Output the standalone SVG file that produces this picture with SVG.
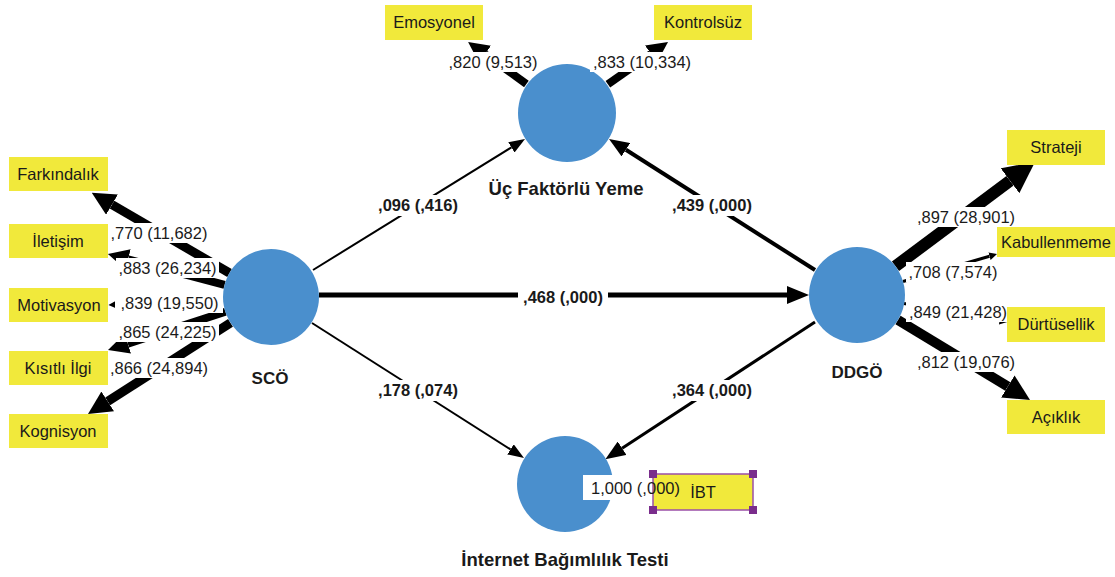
<svg xmlns="http://www.w3.org/2000/svg" width="1115" height="577" viewBox="0 0 1115 577">
<style>
.bx{fill:#f1e93b}
.bt{font-family:"Liberation Sans",Arial,sans-serif;font-size:16.5px;fill:#1a1a1a;text-anchor:middle}
.lt{font-family:"Liberation Sans",Arial,sans-serif;font-size:16.5px;fill:#1a1a1a;text-anchor:middle}
.pl{font-family:"Liberation Sans",Arial,sans-serif;font-size:16.5px;font-weight:bold;fill:#1a1a1a;text-anchor:middle}
.nl{font-family:"Liberation Sans",Arial,sans-serif;font-size:17px;font-weight:bold;fill:#1a1a1a;text-anchor:middle}
.nl2{font-family:"Liberation Sans",Arial,sans-serif;font-size:18.5px;font-weight:bold;fill:#1a1a1a;text-anchor:middle}
.lv{fill:#4a8fcd}
.wb{fill:#ffffff}
.ld{stroke:#000;fill:none;marker-end:url(#hd)}
.pa{stroke:#000;fill:none}
.hd{fill:#7a2d8c}
</style>
<defs>
<marker id="hd" viewBox="0 0 10 10" refX="0" refY="5" markerWidth="2.6" markerHeight="2.6" markerUnits="strokeWidth" orient="auto"><path d="M0,0 L10,5 L0,10 z" fill="#000"/></marker>
<marker id="ps" viewBox="0 0 16 12" refX="0" refY="6" markerWidth="16" markerHeight="12" markerUnits="userSpaceOnUse" orient="auto"><path d="M0,0 L16,6 L0,12 z" fill="#000"/></marker>
<marker id="pm" viewBox="0 0 20 16" refX="0" refY="8" markerWidth="20" markerHeight="16" markerUnits="userSpaceOnUse" orient="auto"><path d="M0,0 L20,8 L0,16 z" fill="#000"/></marker>
<marker id="pl" viewBox="0 0 22 18" refX="0" refY="9" markerWidth="22" markerHeight="18" markerUnits="userSpaceOnUse" orient="auto"><path d="M0,0 L22,9 L0,18 z" fill="#000"/></marker>
</defs>
<rect width="1115" height="577" fill="#fff"/>

<g id="connectors">
<line class="ld" x1="229.5" y1="273" x2="112" y2="204.6" stroke-width="9"/>
<line class="ld" x1="224.6" y1="284.8" x2="128" y2="259.3" stroke-width="8"/>
<line class="ld" x1="223" y1="299" x2="124" y2="304.2" stroke-width="6"/>
<line class="ld" x1="225.4" y1="311.8" x2="127.8" y2="343.6" stroke-width="8"/>
<line class="ld" x1="230.5" y1="322.9" x2="107.7" y2="401.4" stroke-width="9"/>
<line class="ld" x1="526.4" y1="83.9" x2="485" y2="54.2" stroke-width="8"/>
<line class="ld" x1="607.9" y1="84.3" x2="651" y2="54" stroke-width="8"/>
<line class="ld" x1="895.5" y1="266.3" x2="1010" y2="180.7" stroke-width="12"/>
<line class="ld" x1="903" y1="281.5" x2="989.5" y2="256.2" stroke-width="3"/>
<line class="ld" x1="904" y1="303.5" x2="999.6" y2="320.6" stroke-width="3"/>
<line class="ld" x1="898" y1="320" x2="1007.8" y2="386.5" stroke-width="10"/>
<line class="pa" x1="313" y1="270" x2="511.4" y2="147.4" stroke-width="2" marker-end="url(#ps)"/>
<line class="pa" x1="815" y1="270" x2="625.9" y2="149.7" stroke-width="4" marker-end="url(#pm)"/>
<line class="pa" x1="319" y1="295" x2="787" y2="295" stroke-width="5" marker-end="url(#pl)"/>
<line class="pa" x1="312" y1="323" x2="510.5" y2="449.4" stroke-width="2" marker-end="url(#ps)"/>
<line class="pa" x1="815" y1="322" x2="622.1" y2="448.2" stroke-width="3" marker-end="url(#pm)"/>
</g>

<g id="node-sco"><circle class="lv" cx="271" cy="297" r="48"/><text class="nl" x="270" y="384">SCÖ</text></g>
<g id="node-uc"><circle class="lv" cx="567" cy="113" r="49"/><text class="nl2" x="566" y="195">Üç Faktörlü Yeme</text></g>
<g id="node-ddgo"><circle class="lv" cx="857" cy="295" r="48"/><text class="nl" x="857" y="378">DDGÖ</text></g>
<g id="node-ibt-lv"><circle class="lv" cx="565" cy="484" r="48"/><text class="nl2" x="565" y="566">İnternet Bağımlılık Testi</text></g>

<g id="labels">
<rect class="wb" x="108" y="223" width="102" height="20"/><text class="lt" x="159" y="239">,770 (11,682)</text>
<rect class="wb" x="116" y="258" width="103" height="20"/><text class="lt" x="167.5" y="274">,883 (26,234)</text>
<rect class="wb" x="115" y="293" width="108" height="20"/><text class="lt" x="169.5" y="309">,839 (19,550)</text>
<rect class="wb" x="116" y="322" width="103" height="20"/><text class="lt" x="167.5" y="338">,865 (24,225)</text>
<rect class="wb" x="108" y="358" width="102" height="20"/><text class="lt" x="159" y="374">,866 (24,894)</text>
<rect class="wb" x="446" y="52" width="94" height="20"/><text class="lt" x="493" y="68">,820 (9,513)</text>
<rect class="wb" x="590" y="52" width="104" height="20"/><text class="lt" x="642" y="68">,833 (10,334)</text>
<rect class="wb" x="915" y="207" width="102" height="20"/><text class="lt" x="966" y="223">,897 (28,901)</text>
<rect class="wb" x="906" y="262" width="94" height="20"/><text class="lt" x="953" y="278">,708 (7,574)</text>
<rect class="wb" x="906" y="302" width="104" height="20"/><text class="lt" x="958" y="318">,849 (21,428)</text>
<rect class="wb" x="915" y="352" width="102" height="20"/><text class="lt" x="966" y="368">,812 (19,076)</text>
<rect class="wb" x="373" y="195" width="90" height="21"/><text class="pl" x="418" y="211">,096 (,416)</text>
<rect class="wb" x="667" y="195" width="90" height="21"/><text class="pl" x="712" y="211">,439 (,000)</text>
<rect class="wb" x="518" y="287" width="90" height="21"/><text class="pl" x="563" y="303">,468 (,000)</text>
<rect class="wb" x="373" y="380" width="90" height="21"/><text class="pl" x="418" y="396">,178 (,074)</text>
<rect class="wb" x="667" y="380" width="90" height="21"/><text class="pl" x="712" y="396">,364 (,000)</text>
</g>

<g id="ind-farkindalik"><rect class="bx" x="9" y="157" width="99" height="34"/><text class="bt" x="58" y="180">Farkındalık</text></g>
<g id="ind-iletisim"><rect class="bx" x="9" y="224" width="99" height="34"/><text class="bt" x="58" y="247">İletişim</text></g>
<g id="ind-motivasyon"><rect class="bx" x="9" y="288" width="99" height="34"/><text class="bt" x="59" y="311">Motivasyon</text></g>
<g id="ind-kisitli"><rect class="bx" x="9" y="351" width="99" height="34"/><text class="bt" x="58" y="374">Kısıtlı İlgi</text></g>
<g id="ind-kognisyon"><rect class="bx" x="9" y="414" width="99" height="34"/><text class="bt" x="58" y="437">Kognisyon</text></g>
<g id="ind-emosyonel"><rect class="bx" x="385" y="5" width="98" height="35"/><text class="bt" x="434" y="28">Emosyonel</text></g>
<g id="ind-kontrolsuz"><rect class="bx" x="654" y="5" width="98" height="35"/><text class="bt" x="703" y="28">Kontrolsüz</text></g>
<g id="ind-strateji"><rect class="bx" x="1007" y="130" width="98" height="35"/><text class="bt" x="1056" y="153">Strateji</text></g>
<g id="ind-kabullenmeme"><rect class="bx" x="997" y="227" width="118" height="30"/><text class="bt" x="1056" y="248">Kabullenmeme</text></g>
<g id="ind-durtusellik"><rect class="bx" x="1007" y="307" width="98" height="35"/><text class="bt" x="1056" y="330">Dürtüsellik</text></g>
<g id="ind-aciklik"><rect class="bx" x="1007" y="400" width="98" height="34"/><text class="bt" x="1056" y="423">Açıklık</text></g>

<g id="ind-ibt">
<rect class="wb" x="583" y="475" width="70" height="25"/>
<rect class="bx" x="653" y="474" width="100" height="36" stroke="#9a4fa8" stroke-width="1.5"/>
<rect class="hd" x="649" y="470" width="8" height="8"/>
<rect class="hd" x="749" y="470" width="8" height="8"/>
<rect class="hd" x="649" y="506" width="8" height="8"/>
<rect class="hd" x="749" y="506" width="8" height="8"/>
<text class="lt" x="635.5" y="494">1,000 (,000)</text>
<text class="bt" x="703" y="498">İBT</text>
</g>
</svg>
